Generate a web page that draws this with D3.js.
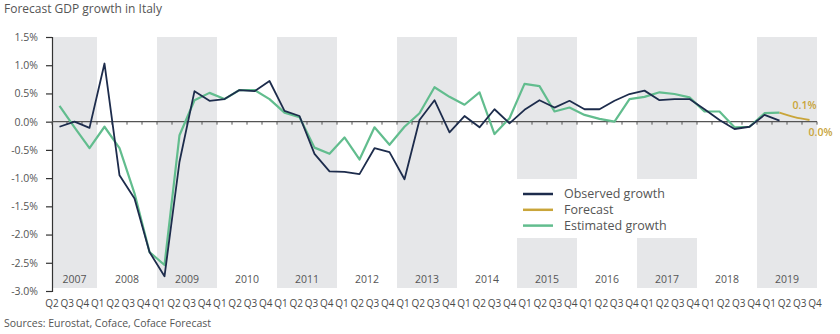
<!DOCTYPE html>
<html>
<head>
<meta charset="utf-8">
<script src="https://cdn.jsdelivr.net/npm/d3@7"></script>
<style>
  body { margin: 0; background: #fff; }
  svg text { font-family: "Open Sans", "Noto Sans", sans-serif; fill: #555; }
</style>
</head>
<body>
<svg id="chart" width="840" height="334"></svg>
<script>
// years shown on the axis, 2007 starts at Q2
const years = [2007, 2008, 2009, 2010, 2011, 2012, 2013, 2014, 2015, 2016, 2017, 2018, 2019];
const firstQuarter = 2;

// quarterly GDP growth, % q/q, from 2007 Q2
const observed = [
  -0.09, 0.00, -0.11, 1.03, -0.95, -1.36, -2.31, -2.74, -0.71, 0.54,
  0.37, 0.40, 0.56, 0.54, 0.72, 0.19, 0.10, -0.57, -0.88, -0.89,
  -0.93, -0.47, -0.54, -1.02, 0.03, 0.38, -0.19, 0.10, -0.10, 0.22,
  -0.03, 0.21, 0.38, 0.25, 0.37, 0.22, 0.22, 0.37, 0.49, 0.55,
  0.38, 0.40, 0.40, 0.22, 0.03, -0.13, -0.09, 0.12, 0.02
];
const estimated = [
  0.28, -0.10, -0.47, -0.09, -0.47, -1.27, -2.31, -2.54, -0.24, 0.38,
  0.51, 0.40, 0.56, 0.56, 0.40, 0.16, 0.08, -0.46, -0.57, -0.28,
  -0.67, -0.10, -0.41, -0.09, 0.15, 0.61, 0.44, 0.30, 0.52, -0.22,
  0.06, 0.67, 0.63, 0.18, 0.25, 0.12, 0.05, 0.00, 0.40, 0.44,
  0.52, 0.49, 0.43, 0.18, 0.18, -0.10, -0.09, 0.15, 0.16
];
// forecast picks up from the last estimate (2019 Q2 .. Q4)
const forecastStart = 48;
const forecast = [0.16, 0.08, 0.03];

const yTicks = [1.5, 1.0, 0.5, 0.0, -0.5, -1.0, -1.5, -2.0, -2.5, -3.0];

const colors = { observed: "#1d2c4c", forecast: "#c9a53a", estimated: "#62bd8e", band: "#e6e7e9" };

// build the quarter categories
const quarters = [];
years.forEach(y => {
  for (let q = (y === years[0] ? firstQuarter : 1); q <= 4; q++) {
    quarters.push({ key: y + "Q" + q, year: y, label: "Q" + q });
  }
});
const keys = quarters.map(d => d.key);

const svg = d3.select("#chart");

const x = d3.scaleBand().domain(keys).range([52, 817]).padding(0);
const xLabel = d3.scalePoint().domain(keys).range([52, 815]);
const y = d3.scaleLinear().domain([-3, 1.5]).range([291, 37]);
const cx = i => x(keys[i]) + x.bandwidth() / 2;

// alternating grey year bands
const yearSpans = years.map(yr => {
  const qs = quarters.filter(d => d.year === yr);
  return { year: yr, x0: x(qs[0].key), x1: x(qs[qs.length - 1].key) + x.bandwidth() };
});

svg.append("g").selectAll("rect")
  .data(yearSpans.filter(d => d.year % 2 === 1))
  .join("rect")
  .attr("x", d => d.x0)
  .attr("y", y(1.5))
  .attr("width", d => d.x1 - d.x0)
  .attr("height", y(-3) - y(1.5) - 3)
  .attr("fill", colors.band);

svg.append("g").selectAll("text")
  .data(yearSpans)
  .join("text")
  .attr("x", d => (d.x0 + d.x1) / 2)
  .attr("y", 283)
  .attr("text-anchor", "middle")
  .style("font-size", "10.5px")
  .text(d => d.year);

// y axis
const yAxis = svg.append("g")
  .attr("transform", "translate(52,0)")
  .call(d3.axisLeft(y).tickValues(yTicks).tickSize(6).tickPadding(8)
    .tickFormat(d => d.toFixed(1) + "%"));
yAxis.select(".domain").attr("stroke", "#333").attr("stroke-width", 1.2);
yAxis.selectAll(".tick line").attr("stroke", "#333").attr("stroke-width", 1.2);
yAxis.selectAll(".tick text").style("font-size", "10.5px").attr("fill", "#555");

// zero line with category ticks
svg.append("line")
  .attr("x1", 52).attr("x2", 817)
  .attr("y1", y(0)).attr("y2", y(0))
  .attr("stroke", "#555").attr("stroke-width", 1.2);
svg.append("g").selectAll("line")
  .data(keys.map(k => x(k)).concat([817]))
  .join("line")
  .attr("x1", d => d).attr("x2", d => d)
  .attr("y1", y(0)).attr("y2", y(0) + 3)
  .attr("stroke", "#555");

// quarter labels
svg.append("g").selectAll("text")
  .data(quarters)
  .join("text")
  .attr("x", d => xLabel(d.key))
  .attr("y", 307)
  .attr("text-anchor", "middle")
  .style("font-size", "10px")
  .style("fill", "#4a4a4a")
  .text(d => d.label);

// legend box sits over the bands
svg.append("rect")
  .attr("x", 508).attr("y", 179)
  .attr("width", 194).attr("height", 59)
  .attr("fill", "#fff");

const line = d3.line().x(d => cx(d.i)).y(d => y(d.v));

svg.append("path")
  .datum(estimated.map((v, i) => ({ i, v })))
  .attr("d", line)
  .attr("fill", "none")
  .attr("stroke", colors.estimated)
  .attr("stroke-width", 2.2)
  .attr("stroke-linejoin", "round");

svg.append("path")
  .datum(observed.map((v, i) => ({ i, v })))
  .attr("d", line)
  .attr("fill", "none")
  .attr("stroke", colors.observed)
  .attr("stroke-width", 1.8)
  .attr("stroke-linejoin", "round");

const fcPts = forecast.map((v, j) => ({ i: forecastStart + j, v }));
svg.append("path")
  .datum(fcPts)
  .attr("d", d3.line().curve(d3.curveMonotoneX).x(d => cx(d.i)).y(d => y(d.v)))
  .attr("fill", "none")
  .attr("stroke", colors.forecast)
  .attr("stroke-width", 2);

// forecast value labels
const fmt = v => v.toFixed(1) + "%";
svg.append("text")
  .attr("x", cx(fcPts[1].i) + 10).attr("y", y(fcPts[1].v) - 8)
  .attr("text-anchor", "middle")
  .style("font-size", "10.5px").style("font-weight", "600")
  .style("fill", colors.forecast)
  .text(fmt(fcPts[1].v));
svg.append("text")
  .attr("x", cx(fcPts[2].i) + 11).attr("y", y(fcPts[2].v) + 16)
  .attr("text-anchor", "middle")
  .style("font-size", "10.5px").style("font-weight", "600")
  .style("fill", colors.forecast)
  .text(fmt(fcPts[2].v));

// legend
const legendItems = [
  { name: "Observed growth", color: colors.observed },
  { name: "Forecast", color: colors.forecast },
  { name: "Estimated growth", color: colors.estimated }
];
const lg = svg.append("g").selectAll("g")
  .data(legendItems)
  .join("g")
  .attr("transform", (d, i) => `translate(523,${194 + i * 15.8})`);
lg.append("line")
  .attr("x1", 0).attr("x2", 30)
  .attr("stroke", d => d.color).attr("stroke-width", 2.5);
lg.append("text")
  .attr("x", 41).attr("dy", "0.35em")
  .style("font-size", "12.5px")
  .text(d => d.name);

// title and source
svg.append("text")
  .attr("x", 4).attr("y", 13)
  .style("font-size", "12px")
  .text("Forecast GDP growth in Italy");
svg.append("text")
  .attr("x", 4).attr("y", 327)
  .style("font-size", "10.5px")
  .text("Sources: Eurostat, Coface, Coface Forecast");
</script>
</body>
</html>
